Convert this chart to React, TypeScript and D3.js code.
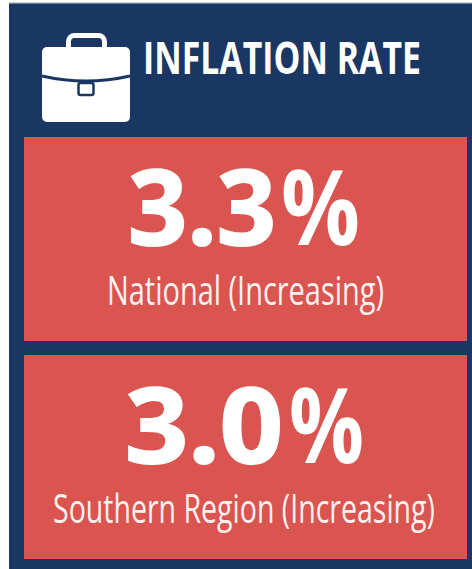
import React from 'react';
import * as d3 from 'd3';

const title = 'INFLATION RATE';
const regions = ['National', 'Southern Region'];
const rates = [3.3, 3.0];
const trends = ['Increasing', 'Increasing'];

const navy = '#1a3763';
const red = '#da5450';
const width = 472;
const height = 569;

// cards stacked in the lower part of the panel
const y = d3.scaleBand<string>().domain(regions).range([137, 569]);
const cardH = 204;
const fmt = d3.format('.1f');

// big figures are split so the number and the % sign can be fitted separately
const numX = [128, 125];
const numW = [148, 158];
const pctX = [281, 289];
const pctW = [79, 75];
const labelWidths = [277, 382];
const labelX = [245.5, 244];

function Briefcase() {
    const flap = d3.path();
    flap.moveTo(42, 76);
    flap.quadraticCurveTo(86, 86, 130, 76);
    return (
        <g>
            <rect x={68.5} y={35.5} width={36} height={22} rx={6} fill="none" stroke="#fff" strokeWidth={5} />
            <rect x={42} y={47} width={88} height={75} rx={5} fill="#fff" />
            <path d={flap.toString()} fill="none" stroke={navy} strokeWidth={3} />
            <rect x={78.5} y={83} width={15} height={12} rx={2} fill="#fff" stroke={navy} strokeWidth={2.5} />
        </g>
    );
}

export default function App() {
    return (
        <svg
            width={width}
            height={height}
            style={{ position: 'absolute', left: 0, top: 0, background: '#fff' }}
        >
            <rect x={9} y={3} width={width - 9} height={height - 3} fill={navy} />
            <rect x={9} y={2} width={width - 9} height={1.5} fill="#c9ccd2" />
            <Briefcase />
            <text
                x={143}
                y={74}
                textLength={278}
                lengthAdjust="spacingAndGlyphs"
                fontFamily="'Open Sans', sans-serif"
                fontWeight={700}
                fontSize={44}
                fill="#fff"
            >
                {title}
            </text>
            {regions.map((region, i) => {
                const top = y(region)! + i * 2;
                return (
                    <g key={region}>
                        <rect x={24} y={top} width={443} height={cardH} fill={red} />
                        <text
                            y={top + 108}
                            fontFamily="'Open Sans', sans-serif"
                            fontWeight={700}
                            fontSize={104}
                            fill="#fff"
                        >
                            <tspan
                                x={numX[i]}
                                textLength={numW[i]}
                                lengthAdjust="spacingAndGlyphs"
                                stroke="#fff"
                                strokeWidth={2}
                            >
                                {fmt(rates[i])}
                            </tspan>
                            <tspan x={pctX[i]} textLength={pctW[i]} lengthAdjust="spacingAndGlyphs">
                                %
                            </tspan>
                        </text>
                        <text
                            x={labelX[i]}
                            y={top + 168}
                            textAnchor="middle"
                            textLength={labelWidths[i]}
                            lengthAdjust="spacingAndGlyphs"
                            fontFamily="'Open Sans', sans-serif"
                            fontWeight={400}
                            fontSize={41}
                            fill="#fdf1f0"
                        >
                            {region} ({trends[i]})
                        </text>
                    </g>
                );
            })}
        </svg>
    );
}
